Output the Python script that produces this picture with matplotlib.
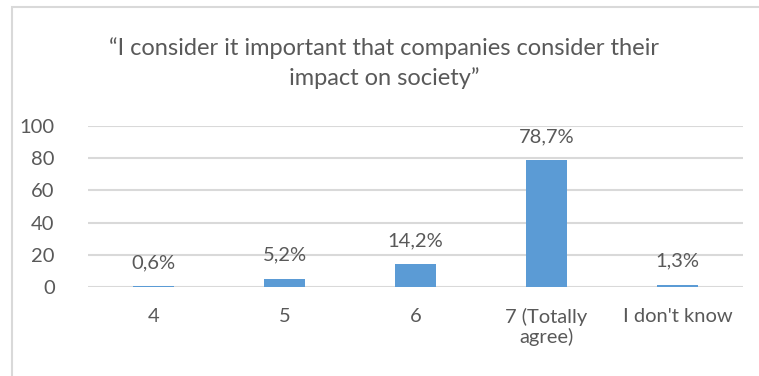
import matplotlib
matplotlib.use("Agg")
import matplotlib.pyplot as plt
from matplotlib.patches import Rectangle

categories = ["4", "5", "6", "7 (Totally\nagree)", "I don't know"]
values = [0.6, 5.2, 14.2, 78.7, 1.3]
value_labels = ["0,6%", "5,2%", "14,2%", "78,7%", "1,3%"]
yticks = [0, 20, 40, 60, 80, 100]
title = "\u201cI consider it important that companies consider their\nimpact on society\u201d"

TEXT = "#595959"
GRID = "#D9D9D9"
BAR = "#5B9BD5"

plt.rcParams["font.family"] = ["Lato", "DejaVu Sans"]

W, H = 759, 376
fig = plt.figure(figsize=(W / 100, H / 100), dpi=100)
fig.patch.set_facecolor("white")

# chart-area frame (runs off the right and bottom edges)
fig.patches.append(Rectangle((12 / W, -0.1), 1.2, 1 - 7 / H + 0.1,
                             transform=fig.transFigure, fill=False,
                             edgecolor=GRID, linewidth=1.5))

left, right, top, bottom = 88, 743, 126, 287
ax = fig.add_axes([left / W, 1 - bottom / H, (right - left) / W, (bottom - top) / H])

x = range(len(categories))
ax.bar(x, values, width=0.31, color=BAR, zorder=3)
ax.set_xlim(-0.5, len(categories) - 0.5)
ax.set_ylim(0, 100)
ax.set_yticks(yticks)
ax.set_yticklabels([str(t) for t in yticks])
ax.set_xticks(list(x))
ax.set_xticklabels(categories, linespacing=1.15)

ax.grid(axis="y", color=GRID, linewidth=1.5, zorder=0)
for s in ax.spines.values():
    s.set_visible(False)
ax.tick_params(axis="both", length=0, labelsize=14.5, colors=TEXT)
ax.tick_params(axis="x", pad=15)
ax.tick_params(axis="y", pad=24)
for lbl in ax.get_yticklabels():
    lbl.set_horizontalalignment("right")

for xi, v, lab in zip(x, values, value_labels):
    ax.annotate(lab, (xi, v), xytext=(0, 17), textcoords="offset points",
                ha="center", va="center", fontsize=14.5, color=TEXT)

fig.text(384 / W, 1 - 63 / H, title, ha="center", va="center",
         fontsize=17, color=TEXT, linespacing=1.5)

fig.savefig("out.png", dpi=100)
